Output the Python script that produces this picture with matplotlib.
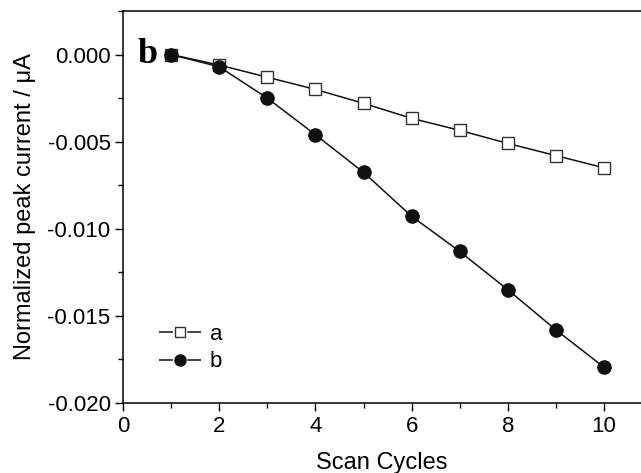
import matplotlib.pyplot as plt
from matplotlib.lines import Line2D
from matplotlib.ticker import MultipleLocator

plt.rcParams['font.family'] = ['Liberation Sans', 'DejaVu Sans']
plt.rcParams['lines.scale_dashes'] = False

cycles = [1, 2, 3, 4, 5, 6, 7, 8, 9, 10]
current_a = [0.0, -0.0006, -0.0013, -0.0020, -0.0028, -0.00366, -0.00435, -0.0051, -0.0058, -0.0065]
current_b = [0.0, -0.0007, -0.0025, -0.0046, -0.00676, -0.00928, -0.0113, -0.0135, -0.0158, -0.01795]
series_labels = ['a', 'b']

fig = plt.figure(figsize=(6.41, 4.73), dpi=100)
ax = fig.add_axes([123 / 641, 1 - 403 / 473, (641 - 123) / 641, (403 - 11) / 473])

ax.plot(cycles, current_a, color='#111111', lw=1.1, marker='s', ms=8.5,
        mfc='white', mec='#333333', mew=1.0)
ax.plot(cycles, current_b, color='#111111', lw=1.1, marker='o', ms=9.5,
        mfc='#111111', mec='#111111')

ax.set_xlim(0, (641 - 123) / 48.1)
ax.set_ylim(-0.020, 0.0025)
ax.xaxis.set_major_locator(MultipleLocator(2))
ax.xaxis.set_minor_locator(MultipleLocator(1))
ax.yaxis.set_major_locator(MultipleLocator(0.005))
ax.yaxis.set_minor_locator(MultipleLocator(0.0025))
ax.yaxis.set_major_formatter(lambda v, p: f'{v:.3f}' if abs(v) > 1e-9 else '0.000')
ax.tick_params(which='major', direction='out', length=6, width=1.0, labelsize=16, pad=3)
ax.tick_params(which='minor', direction='out', length=3.5, width=1.0)
ax.spines['right'].set_visible(False)
for s in ('left', 'bottom', 'top'):
    ax.spines[s].set_linewidth(1.1)

ax.set_xlabel('Scan Cycles', fontsize=17, labelpad=11)
ax.set_ylabel('Normalized peak current / μA', fontsize=17, labelpad=8)

ax.text(0.3, 0.0, 'b', fontsize=26, fontweight='bold', family='Liberation Serif',
        va='center', ha='left')

# legend handles: short line, gap, marker, gap, short line
hl = 1.9
fs = 16
seg = 10.0
gap = hl * fs - 2 * seg
handles = [
    Line2D([], [], color='#111111', lw=1.1, dashes=(seg, gap), marker='s', ms=7,
           mfc='white', mec='#333333', mew=1.0),
    Line2D([], [], color='#111111', lw=1.1, dashes=(seg, gap), marker='o', ms=8,
           mfc='#111111', mec='#111111'),
]
ax.legend(handles, series_labels, loc='lower left', bbox_to_anchor=(0.03, 0.027),
          frameon=False, fontsize=fs, handlelength=hl, handletextpad=0.4,
          labelspacing=0.3)

fig.savefig('out.png', dpi=100)
